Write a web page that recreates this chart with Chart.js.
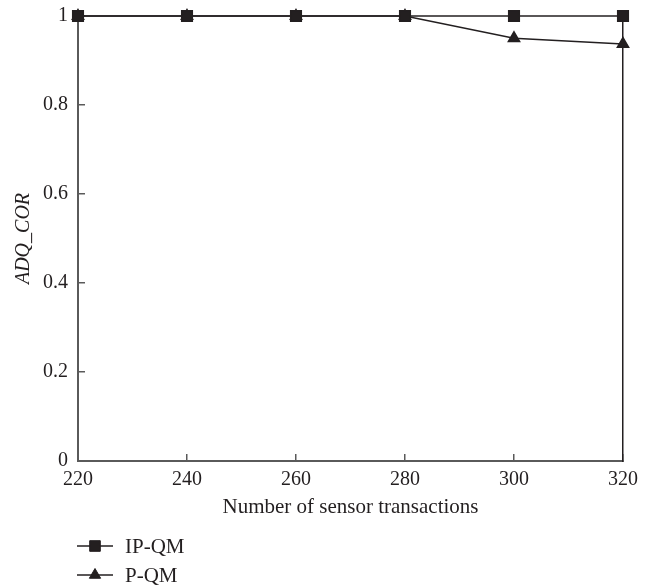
<!DOCTYPE html>
<html lang="en">
<head>
  <meta charset="UTF-8">
  <title>ADQ_COR vs sensor transactions</title>
  <script src="https://cdn.jsdelivr.net/npm/chart.js"></script>
  <style>
    html, body { margin: 0; padding: 0; background: #fff; }
    #wrap { width: 654px; height: 588px; }
  </style>
</head>
<body>
  <div id="wrap"><canvas id="chart" width="654" height="588"></canvas></div>

  <script>
    const transactions = [220, 240, 260, 280, 300, 320];
    const ipqm = [1, 1, 1, 1, 1, 1];
    const pqm = [1, 1, 1, 1, 0.95, 0.937];
    const yTicks = [0, 0.2, 0.4, 0.6, 0.8, 1];

    const ink = '#231f20';
    const axisGray = '#5a5a5a';
    const serif = "'Liberation Serif', 'DejaVu Serif', serif";

    // legend drawn stacked under the axis, like the figure
    const stackedLegend = {
      id: 'stackedLegend',
      afterDraw(chart) {
        const ctx = chart.ctx;
        const x0 = 77, x1 = 113, tx = 125;
        const rows = [546, 575];
        chart.data.datasets.forEach((ds, i) => {
          const y = rows[i];
          ctx.save();
          ctx.strokeStyle = ds.borderColor;
          ctx.lineWidth = ds.borderWidth;
          ctx.beginPath();
          ctx.moveTo(x0, y);
          ctx.lineTo(x1, y);
          ctx.stroke();
          ctx.fillStyle = ds.pointBackgroundColor;
          ctx.strokeStyle = ds.pointBorderColor;
          ctx.lineWidth = 1;
          Chart.helpers.drawPoint(ctx, { pointStyle: ds.pointStyle, radius: ds.pointRadius, rotation: 0, borderWidth: 1 }, (x0 + x1) / 2, y);
          ctx.fillStyle = ink;
          ctx.font = '21px ' + serif;
          ctx.textBaseline = 'middle';
          ctx.fillText(ds.label, tx, y + 1);
          ctx.restore();
        });
      }
    };

    new Chart(document.getElementById('chart'), {
      type: 'line',
      data: {
        datasets: [
          {
            label: 'IP-QM',
            data: transactions.map((x, i) => ({ x: x, y: ipqm[i] })),
            borderColor: ink,
            borderWidth: 1.5,
            pointStyle: 'rect',
            pointRadius: 7.5,
            pointBackgroundColor: ink,
            pointBorderColor: ink,
            tension: 0,
            clip: false
          },
          {
            label: 'P-QM',
            data: transactions.map((x, i) => ({ x: x, y: pqm[i] })),
            borderColor: ink,
            borderWidth: 1.5,
            pointStyle: 'triangle',
            pointRadius: 6.5,
            pointBackgroundColor: ink,
            pointBorderColor: ink,
            tension: 0,
            clip: false
          }
        ]
      },
      options: {
        responsive: false,
        animation: false,
        layout: { padding: { left: 0, right: 31, top: 16, bottom: 67 } },
        plugins: {
          legend: { display: false },
          tooltip: { enabled: false }
        },
        scales: {
          x: {
            type: 'linear',
            min: 220,
            max: 320,
            afterBuildTicks: s => { s.ticks = transactions.map(v => ({ value: v })); },
            afterFit: s => { s.height = 60; s.paddingLeft = 0; s.paddingRight = 0; },
            grid: { drawOnChartArea: false, tickLength: -7, color: axisGray, lineWidth: 1.5 },
            border: { color: axisGray, width: 2 },
            ticks: { color: ink, padding: 14, font: { family: serif, size: 20 }, maxRotation: 0 },
            title: {
              display: true,
              text: 'Number of sensor transactions',
              color: ink,
              font: { family: serif, size: 21 },
              padding: { top: 0, bottom: 1 }
            }
          },
          y: {
            min: 0,
            max: 1,
            afterBuildTicks: s => { s.ticks = yTicks.map(v => ({ value: v })); },
            afterFit: s => { s.width = 78; s.paddingTop = 0; s.paddingBottom = 0; },
            grid: { drawOnChartArea: false, tickLength: -7, color: axisGray, lineWidth: 1.5 },
            border: { color: axisGray, width: 2 },
            ticks: { color: ink, padding: 17, font: { family: serif, size: 20 }, callback: v => String(v) },
            title: {
              display: true,
              text: 'ADQ_COR',
              color: ink,
              font: { family: serif, size: 20, style: 'italic' },
              padding: { top: 12, bottom: 0 }
            }
          },
          yRight: {
            position: 'right',
            min: 0,
            max: 1,
            afterFit: s => { s.width = 0; s.paddingTop = 0; s.paddingBottom = 0; },
            grid: { drawOnChartArea: false, drawTicks: false },
            border: { color: ink, width: 1.5 },
            ticks: { display: false }
          }
        }
      },
      plugins: [stackedLegend]
    });
  </script>
</body>
</html>
